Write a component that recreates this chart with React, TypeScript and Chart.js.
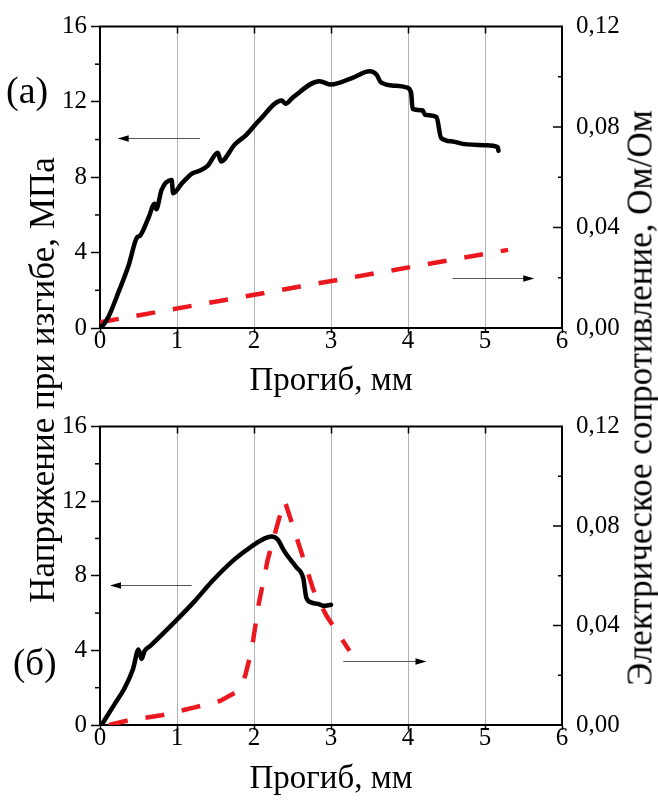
import React, { useEffect, useRef } from "react";
import { Chart, registerables } from "chart.js";

Chart.register(...registerables);

// ---------- data ----------
// Panel (а): stress (МПа) vs deflection (мм)
const topStressX = [0, 0.02, 0.11, 0.24, 0.37, 0.48, 0.52, 0.63, 0.71, 0.73, 0.8, 0.93, 0.95, 1.06, 1.19, 1.3, 1.4, 1.53, 1.57, 1.75, 1.9, 2.07, 2.36, 2.41, 2.51, 2.85, 3.0, 3.28, 3.5, 3.59, 3.65, 3.85, 3.98, 4.04, 4.06, 4.19, 4.22, 4.37, 4.43, 4.58, 4.71, 5.01, 5.165, 5.175];
const topStressY = [0, 0.05, 0.6, 1.9, 3.3, 4.8, 4.9, 5.85, 6.6, 6.3, 7.33, 7.85, 7.15, 7.66, 8.18, 8.36, 8.62, 9.3, 8.84, 9.74, 10.25, 11.03, 12.07, 11.9, 12.25, 13.1, 12.92, 13.28, 13.62, 13.45, 13.03, 12.85, 12.77, 12.5, 11.63, 11.55, 11.32, 11.2, 10.08, 9.9, 9.77, 9.7, 9.6, 9.4];
// Panel (а): relative resistance (Ом/Ом)
const topResX = [0, 2.6, 5.3];
const topResY = [0.0023, 0.0165, 0.0311];

// Panel (б)
const botStressX = [0.02, 0.19, 0.32, 0.43, 0.5, 0.54, 0.58, 0.65, 0.99, 1.23, 1.45, 1.75, 1.97, 2.14, 2.23, 2.31, 2.38, 2.42, 2.55, 2.64, 2.68, 2.75, 2.85, 2.9, 3.0];
const botStressY = [0, 1.12, 1.98, 3.02, 4.05, 3.54, 3.97, 4.23, 5.61, 6.64, 7.68, 8.89, 9.58, 10.0, 10.1, 9.93, 9.41, 9.15, 8.46, 7.86, 6.82, 6.56, 6.47, 6.39, 6.44];
const botResX = [0.12, 0.37, 0.8, 1.23, 1.56, 1.75, 1.84, 1.89, 1.95, 1.99, 2.06, 2.18, 2.33, 2.4, 2.62, 2.77, 2.94, 3.24];
const botResY = [0, 0.0019, 0.0039, 0.0071, 0.0097, 0.0129, 0.016, 0.0203, 0.0278, 0.0343, 0.0485, 0.0667, 0.0835, 0.09, 0.069, 0.0544, 0.044, 0.0298];

// ticks
const xTicks = [0, 1, 2, 3, 4, 5, 6];
const stressTicks = [0, 4, 8, 12, 16];
const stressMinor = [2, 6, 10, 14];
const resTicks = [0, 0.04, 0.08, 0.12];
const resMinor = [0.02, 0.06, 0.1];

// texts
const xTitle = "Прогиб, мм";
const leftTitle = "Напряжение при изгибе, МПа";
const rightTitle = "Электрическое сопротивление, Ом/Ом";

// arrows pointing to the axis of each curve (data coords)
const topArrows = [
  { x0: 1.3, x1: 0.23, y: 10.08, axis: "y" },
  { x0: 4.58, x1: 5.64, y: 0.0199, axis: "y1" },
];
const botArrows = [
  { x0: 1.19, x1: 0.13, y: 7.51, axis: "y" },
  { x0: 3.16, x1: 4.24, y: 0.0259, axis: "y1" },
];

const SERIF = '"Liberation Serif", "Times New Roman", serif';
const RED = "rgb(236,24,32)";

const zip = (xs: number[], ys: number[]) => xs.map((x, i) => ({ x, y: ys[i] }));

const framePlugin = {
  id: "frame",
  afterDatasetsDraw(chart: any, _args: any, opts: any) {
    const { ctx, chartArea: a, scales } = chart;
    const x = scales.x;
    const y = scales.y;
    const y1 = scales.y1;
    const line = (x0: number, y0: number, x1: number, yy1: number) => {
      ctx.beginPath();
      ctx.moveTo(x0, y0);
      ctx.lineTo(x1, yy1);
      ctx.stroke();
    };
    ctx.save();
    ctx.strokeStyle = "#000";
    ctx.lineWidth = 2;
    line(a.left - 1, a.top, a.right + 1, a.top);
    ctx.lineWidth = 1.5;
    for (const v of xTicks) {
      if (v === x.min || v === x.max) continue;
      const px = Math.round(x.getPixelForValue(v)) + 0.5;
      line(px, a.top, px, a.top + 7);
    }
    for (const v of stressMinor) {
      const py = y.getPixelForValue(v);
      line(a.left - 5, py, a.left, py);
    }
    for (const v of resTicks) {
      if (v === y1.min || v === y1.max) continue;
      const py = y1.getPixelForValue(v);
      line(a.right - 9, py, a.right, py);
    }
    for (const v of resMinor) {
      const py = y1.getPixelForValue(v);
      line(a.right - 4, py, a.right, py);
    }
    for (const ar of opts.arrows || []) {
      const sc = scales[ar.axis];
      const px0 = x.getPixelForValue(ar.x0);
      const px1 = x.getPixelForValue(ar.x1);
      const py = Math.round(sc.getPixelForValue(ar.y)) + 0.5;
      const dir = px1 > px0 ? 1 : -1;
      ctx.strokeStyle = "#555";
      ctx.lineWidth = 1;
      line(px0, py, px1 - dir * 8, py);
      ctx.fillStyle = "#000";
      ctx.beginPath();
      ctx.moveTo(px1, py);
      ctx.lineTo(px1 - dir * 11, py - 3.2);
      ctx.lineTo(px1 - dir * 11, py + 3.2);
      ctx.closePath();
      ctx.fill();
    }
    ctx.restore();
  },
};

function makeConfig(
  stressX: number[], stressY: number[], resX: number[], resY: number[],
  arrows: any[], areaTop: number, canvasH: number, areaBottom: number, titlePad: number
): any {
  const tickFont = { family: SERIF, size: 25, lineHeight: 1 };
  return {
    type: "scatter",
    data: {
      datasets: [
        {
          data: zip(stressX, stressY),
          yAxisID: "y",
          showLine: true,
          borderColor: "#000",
          borderWidth: 4.5,
          pointRadius: 0,
          borderJoinStyle: "round",
          borderCapStyle: "round",
          cubicInterpolationMode: "monotone",
        },
        {
          data: zip(resX, resY),
          yAxisID: "y1",
          showLine: true,
          borderColor: RED,
          borderWidth: 4.5,
          borderDash: [19, 18],
          pointRadius: 0,
          tension: 0,
        },
      ],
    },
    options: {
      animation: false,
      responsive: false,
      events: [],
      layout: { padding: { top: areaTop, left: 0, right: 0, bottom: 0 } },
      plugins: {
        legend: { display: false },
        tooltip: { enabled: false },
        frame: { arrows },
      },
      scales: {
        x: {
          type: "linear",
          min: 0,
          max: 6,
          afterBuildTicks: (s: any) => { s.ticks = xTicks.map((v) => ({ value: v })); },
          afterFit: (s: any) => { s.height = canvasH - areaBottom; },
          ticks: { font: tickFont, color: "#000", padding: -4, maxRotation: 0, callback: (v: any) => String(v) },
          grid: {
            color: (c: any) => (c.tick && (c.tick.value === 0 || c.tick.value === 6) ? "rgba(0,0,0,0)" : "#b4b4b4"),
            lineWidth: 1,
            tickLength: 5,
            tickColor: "#000",
            tickWidth: 1.5,
          },
          border: { display: true, color: "#000", width: 2 },
          title: { display: true, text: xTitle, color: "#000", font: { family: SERIF, size: 33, lineHeight: 1 }, padding: { top: 0, bottom: titlePad } },
        },
        y: {
          type: "linear",
          position: "left",
          min: 0,
          max: 16,
          afterBuildTicks: (s: any) => { s.ticks = stressTicks.map((v) => ({ value: v })); },
          afterFit: (s: any) => { s.width = 100; },
          ticks: { font: tickFont, color: "#000", padding: 4, callback: (v: any) => String(v) },
          grid: { drawOnChartArea: false, tickLength: 9, tickColor: "#000", tickWidth: 1.5 },
          border: { display: true, color: "#000", width: 2 },
        },
        y1: {
          type: "linear",
          position: "right",
          min: 0,
          max: 0.12,
          afterBuildTicks: (s: any) => { s.ticks = resTicks.map((v) => ({ value: v })); },
          afterFit: (s: any) => { s.width = 96; },
          ticks: { font: tickFont, color: "#000", padding: 14, callback: (v: any) => Number(v).toFixed(2).replace(".", ",") },
          grid: { display: true, drawOnChartArea: false, drawTicks: false },
          border: { display: true, color: "#000", width: 2 },
        },
      },
    },
    plugins: [framePlugin],
  };
}

export default function App() {
  const topRef = useRef<HTMLCanvasElement | null>(null);
  const botRef = useRef<HTMLCanvasElement | null>(null);

  useEffect(() => {
    const c1 = new Chart(topRef.current as HTMLCanvasElement, makeConfig(topStressX, topStressY, topResX, topResY, topArrows, 19, 400, 328, 2.5));
    const c2 = new Chart(botRef.current as HTMLCanvasElement, makeConfig(botStressX, botStressY, botResX, botResY, botArrows, 16, 402, 325, 6.5));
    return () => {
      c1.destroy();
      c2.destroy();
    };
  }, []);

  const txt: React.CSSProperties = { position: "absolute", fontFamily: SERIF, color: "#000", whiteSpace: "nowrap", lineHeight: 1 };

  return (
    <div style={{ position: "fixed", left: 0, top: 0, width: 658, height: 802, background: "#fff", overflow: "hidden" }}>
      <canvas ref={topRef} width={658} height={400} style={{ position: "absolute", left: 0, top: 0, width: 658, height: 400 }} />
      <canvas ref={botRef} width={658} height={402} style={{ position: "absolute", left: 0, top: 400, width: 658, height: 402 }} />
      <div style={{ ...txt, left: 42, top: 380, fontSize: 35, transform: "translate(-50%, -50%) rotate(-90deg)" }}>{leftTitle}</div>
      <div style={{ ...txt, left: 640, top: 398, fontSize: 35, transform: "translate(-50%, -50%) rotate(-90deg)" }}>{rightTitle}</div>
      <div style={{ ...txt, left: 6, top: 71, fontSize: 38 }}>(а)</div>
      <div style={{ ...txt, left: 13, top: 644, fontSize: 37 }}>(б)</div>
    </div>
  );
}
